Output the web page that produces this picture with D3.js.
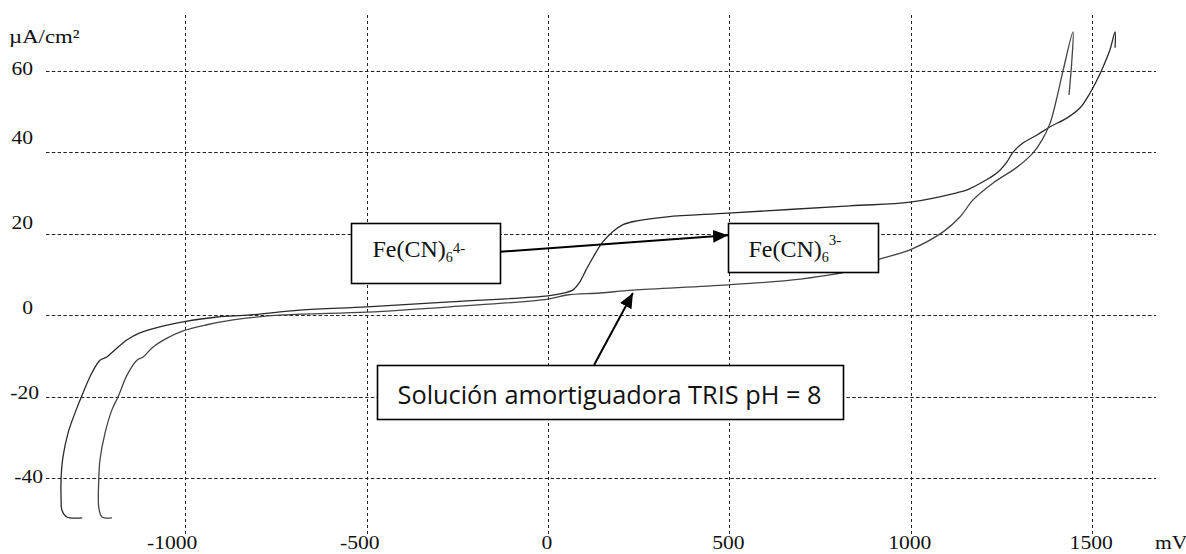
<!DOCTYPE html>
<html>
<head>
<meta charset="utf-8">
<script src="https://cdn.jsdelivr.net/npm/d3@7"></script>
<style>
  body { margin: 0; background: #fff; }
  svg { display: block; }
</style>
</head>
<body>
<svg id="chart" width="1186" height="554"></svg>
<script>
// tick values
var xTicks = [-1000, -500, 0, 500, 1000, 1500]
var yTicks = [60, 40, 20, 0, -20, -40]

// curve with the Fe(CN)6 step: [mV, uA/cm2]
var feCurve = [
  [-1284, -49.7], [-1326, -49.5], [-1340, -47.8], [-1342, -45.3], [-1342, -39.9],
  [-1337, -34.8], [-1323, -28.9], [-1304, -24.0], [-1282, -19.1], [-1257, -14.1],
  [-1235, -11.0], [-1216, -10.2], [-1194, -8.5], [-1160, -6.0], [-1125, -4.3],
  [-1070, -2.8], [-1006, -1.6], [-912, -0.4], [-821, 0.1], [-684, 1.3],
  [-499, 2.1], [-270, 3.3], [0, 4.8], [40, 5.4], [68, 6.2], [86, 8.0],
  [104, 11.0], [124, 14.2], [150, 17.9], [179, 20.6], [207, 22.3], [245, 23.2], [328, 24.2],
  [496, 25.1], [832, 26.9], [998, 27.8], [1127, 30.1], [1155, 30.8], [1199, 32.8],
  [1238, 35.0], [1265, 37.7], [1282, 40.1], [1309, 42.3], [1348, 44.3], [1384, 46.3],
  [1431, 48.5], [1466, 50.9], [1494, 54.6], [1516, 58.3], [1530, 61.0], [1549, 65.2],
  [1563, 69.6], [1563, 65.7]
]

// TRIS buffer only
var trisCurve = [
  [-1202, -49.7], [-1229, -49.5], [-1238, -47.3], [-1238, -39.9], [-1235, -35.5],
  [-1221, -28.9], [-1202, -23.2], [-1185, -20.0], [-1160, -14.6], [-1133, -11.0],
  [-1116, -10.2], [-1089, -7.8], [-1050, -5.6], [-1006, -3.8], [-940, -2.3],
  [-868, -1.1], [-730, 0.1], [-499, 0.8], [-270, 2.1], [0, 4.0], [52, 5.0],
  [143, 5.5], [234, 6.2], [496, 7.5], [695, 8.9], [832, 10.9], [907, 13.6],
  [998, 16.1], [1089, 20.5], [1136, 24.2], [1171, 28.3], [1227, 32.5], [1293, 36.4],
  [1337, 39.9], [1362, 43.1], [1384, 47.2], [1403, 53.6], [1420, 60.2], [1447, 69.6],
  [1444, 62.7], [1436, 54.1]
]

var svg = d3.select('#chart')

var x = d3.scaleLinear()
  .domain([-1000, 1500])
  .range([185.2, 1092.2])

var y = d3.scaleLinear()
  .domain([-40, 60])
  .range([478.3, 71])

var serif = '"Liberation Serif", "Times New Roman", serif'

// dashed grid
svg.append('g')
  .selectAll('line')
  .data(yTicks)
  .join('line')
  .attr('x1', 46)
  .attr('x2', 1156)
  .attr('y1', d => Math.round(y(d)) + 0.5)
  .attr('y2', d => Math.round(y(d)) + 0.5)
  .attr('stroke', '#222')
  .attr('stroke-width', 1)
  .attr('stroke-dasharray', '3.5,2.3')

svg.append('g')
  .selectAll('line')
  .data(xTicks)
  .join('line')
  .attr('x1', d => Math.round(x(d)) + 0.5)
  .attr('x2', d => Math.round(x(d)) + 0.5)
  .attr('y1', 15)
  .attr('y2', 534)
  .attr('stroke', '#222')
  .attr('stroke-width', 1)
  .attr('stroke-dasharray', '3,3')

// tick labels (the original font is a bit wide, hence the scale)
svg.append('g')
  .selectAll('text')
  .data(yTicks)
  .join('text')
  .attr('transform', function(d) {
    var lx = d >= 0 ? 33 : (d === -20 ? 39 : 43)
    var ly = y(d) + (d > 40 ? 4 : -1.7 - d * 0.17)
    return 'translate(' + lx + ',' + ly + ') scale(1.2,1)'
  })
  .attr('text-anchor', 'end')
  .attr('font-family', serif)
  .attr('font-size', 18)
  .attr('fill', '#111')
  .text(d => d)

svg.append('g')
  .selectAll('text')
  .data(xTicks)
  .join('text')
  .attr('transform', function(d) {
    var shift = d < 0 ? d * 0.0125 - 0.5 : -1
    return 'translate(' + (x(d) + shift) + ',549) scale(1.2,1)'
  })
  .attr('text-anchor', 'middle')
  .attr('font-family', serif)
  .attr('font-size', 18)
  .attr('fill', '#111')
  .text(d => d)

svg.append('text')
  .attr('transform', 'translate(1155,549) scale(1.2,1)')
  .attr('font-family', serif)
  .attr('font-size', 18)
  .attr('fill', '#111')
  .text('mV')

svg.append('text')
  .attr('transform', 'translate(9,43) scale(1.2,1)')
  .attr('font-family', serif)
  .attr('font-size', 19)
  .attr('fill', '#111')
  .text('\u00b5A/cm\u00b2')

// curves
var line = d3.line()
  .x(d => x(d[0]))
  .y(d => y(d[1]))
  .curve(d3.curveCatmullRom.alpha(0.5))

svg.append('path')
  .datum(feCurve)
  .attr('d', line)
  .attr('fill', 'none')
  .attr('stroke', '#2a2a2a')
  .attr('stroke-width', 1.3)

svg.append('path')
  .datum(trisCurve)
  .attr('d', line)
  .attr('fill', 'none')
  .attr('stroke', '#444')
  .attr('stroke-width', 1.3)

// annotations, placed in data units
svg.append('defs').append('marker')
  .attr('id', 'head')
  .attr('viewBox', '0 0 15 13')
  .attr('refX', 15)
  .attr('refY', 6.5)
  .attr('markerWidth', 15)
  .attr('markerHeight', 13)
  .attr('markerUnits', 'userSpaceOnUse')
  .attr('orient', 'auto')
  .append('path')
  .attr('d', 'M0,0 L15,6.5 L0,13 Z')
  .attr('fill', '#000')

function arrow(from, to) {
  svg.append('line')
    .attr('x1', x(from[0]))
    .attr('y1', y(from[1]))
    .attr('x2', x(to[0]))
    .attr('y2', y(to[1]))
    .attr('stroke', '#000')
    .attr('stroke-width', 2)
    .attr('marker-end', 'url(#head)')
}

function box(x0, x1, yTop, yBottom) {
  var bx = Math.round(x(x0)) + 0.5, by = Math.round(y(yTop)) + 0.5
  svg.append('rect')
    .attr('x', bx)
    .attr('y', by)
    .attr('width', Math.round(x(x1) - x(x0)))
    .attr('height', Math.round(y(yBottom) - y(yTop)))
    .attr('fill', '#fff')
    .attr('stroke', '#000')
    .attr('stroke-width', 1.6)
  return [bx, by]
}

function feLabel(pos, dx, charge, supDy) {
  var t = svg.append('text')
    .attr('x', pos[0] + dx)
    .attr('y', pos[1] + 33)
    .attr('font-family', serif)
    .attr('font-size', 24)
    .attr('fill', '#111')
  t.append('tspan').text('Fe(CN)')
  t.append('tspan').attr('font-size', 14).attr('dy', 5).text('6')
  t.append('tspan').attr('font-size', 15).attr('dy', supDy).text(charge)
}

arrow([-132, 15.6], [496, 19.7])
arrow([127, -12.2], [234, 5.5])

feLabel(box(-543, -132, 22.7, 7.95), 21, '4-', -9)
feLabel(box(496, 910, 22.7, 10.66), 20, '3-', -17)

var tb = box(-471, 813, -12.2, -25.4)
svg.append('text')
  .attr('x', tb[0] + 20)
  .attr('y', tb[1] + 38)
  .attr('font-family', '"Open Sans", "Noto Sans", sans-serif')
  .attr('font-size', 26)
  .attr('fill', '#111')
  .attr('textLength', 424)
  .attr('lengthAdjust', 'spacingAndGlyphs')
  .text('Soluci\u00f3n amortiguadora TRIS pH = 8')
</script>
</body>
</html>
